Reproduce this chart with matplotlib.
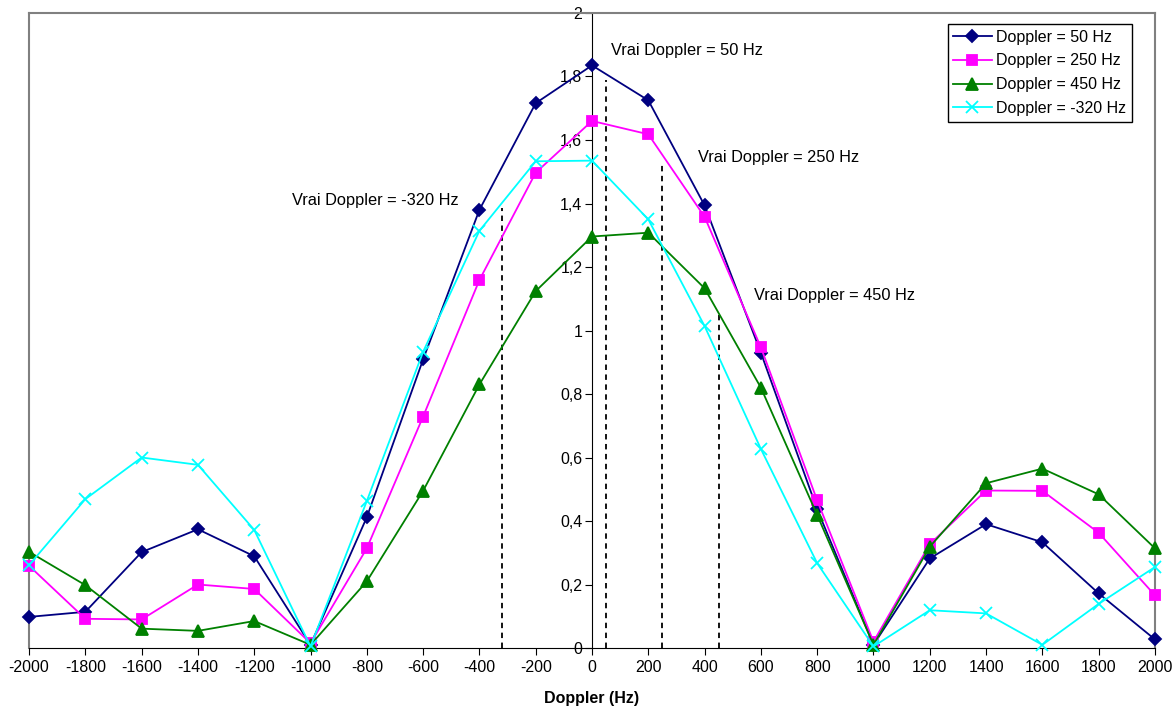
import matplotlib
matplotlib.use("Agg")
import matplotlib.pyplot as plt
from matplotlib.lines import Line2D

plt.rcParams['font.family'] = ['Liberation Sans', 'DejaVu Sans']
plt.rcParams['axes.unicode_minus'] = False

doppler = [-2000, -1800, -1600, -1400, -1200, -1000, -800, -600, -400, -200,
           0, 200, 400, 600, 800, 1000, 1200, 1400, 1600, 1800, 2000]

d50 = [0.098, 0.114, 0.302, 0.374, 0.289, 0.01, 0.412, 0.909, 1.38, 1.716,
       1.835, 1.725, 1.394, 0.93, 0.437, 0.01, 0.282, 0.39, 0.333, 0.172, 0.027]
d250 = [0.259, 0.092, 0.09, 0.2, 0.186, 0.015, 0.314, 0.729, 1.159, 1.497,
        1.66, 1.618, 1.358, 0.947, 0.465, 0.02, 0.327, 0.496, 0.495, 0.363, 0.166]
d450 = [0.303, 0.198, 0.061, 0.054, 0.085, 0.01, 0.21, 0.495, 0.83, 1.124,
        1.296, 1.308, 1.133, 0.82, 0.419, 0.01, 0.319, 0.519, 0.565, 0.484, 0.314]
dm320 = [0.261, 0.469, 0.6, 0.577, 0.372, 0.005, 0.463, 0.933, 1.314, 1.533,
         1.535, 1.35, 1.014, 0.627, 0.267, 0.005, 0.119, 0.109, 0.01, 0.139, 0.255]

# true doppler markers: position, height of dashed line, label position
true_dop = [-320, 50, 250, 450]
true_top = [1.386, 1.789, 1.532, 1.06]
label_x = [-1066, 67, 377, 575]
label_y = [1.411, 1.883, 1.546, 1.109]

fig = plt.figure(figsize=(11.76, 7.10), dpi=100)
ax = fig.add_axes([0.0247, 0.0873, 0.9574, 0.8944])

fs = 11.5
series = [
    (d50, '#000080', 'D', 6, 'Doppler = 50 Hz'),
    (d250, '#FF00FF', 's', 7.5, 'Doppler = 250 Hz'),
    (d450, '#008000', '^', 8, 'Doppler = 450 Hz'),
    (dm320, '#00FFFF', 'x', 8, 'Doppler = -320 Hz'),
]
for vals, col, mk, ms, lab in series:
    ax.plot(doppler, vals, color=col, marker=mk, ms=ms, mew=1.3, lw=1.3,
            label=lab, clip_on=False, zorder=3)

for xd, top in zip(true_dop, true_top):
    ax.plot([xd, xd], [0, top], color='black', ls=(0, (3, 2.5)), lw=1.3)
for xd, lx, ly in zip(true_dop, label_x, label_y):
    ax.text(lx, ly, 'Vrai Doppler = %d Hz' % xd, fontsize=11.8, va='center', ha='left')

ax.set_xlim(-2000, 2000)
ax.set_ylim(0, 2)
ax.set_xticks(range(-2000, 2001, 200))
yt = [i * 0.2 for i in range(11)]
ax.set_yticks(yt)
ax.set_yticklabels([('%g' % round(v, 1)).replace('.', ',') for v in yt])

ax.spines['left'].set_position(('data', 0))
ax.spines['left'].set_color('black')
ax.spines['bottom'].set_color('black')
ax.spines['top'].set_color('#808080')
ax.spines['right'].set_color('#808080')
ax.spines['top'].set_linewidth(1.5)
ax.spines['right'].set_linewidth(1.5)
ax.add_line(Line2D([0, 0], [0, 1], transform=ax.transAxes, color='#808080',
                   lw=1.5, clip_on=False))
ax.tick_params(axis='both', direction='out', length=5, labelsize=fs, color='black')
ax.tick_params(axis='y', pad=2)

ax.set_xlabel('Doppler (Hz)', fontsize=fs, fontweight='bold', labelpad=12)

leg = ax.legend(loc='upper right', bbox_to_anchor=(0.9796, 0.9827), fontsize=fs,
                frameon=True, fancybox=False, edgecolor='black', framealpha=1,
                handlelength=2.4, labelspacing=0.55, borderpad=0.35,
                handletextpad=0.3, borderaxespad=0)
leg.get_frame().set_linewidth(1.0)

fig.savefig('out.png', dpi=100)
